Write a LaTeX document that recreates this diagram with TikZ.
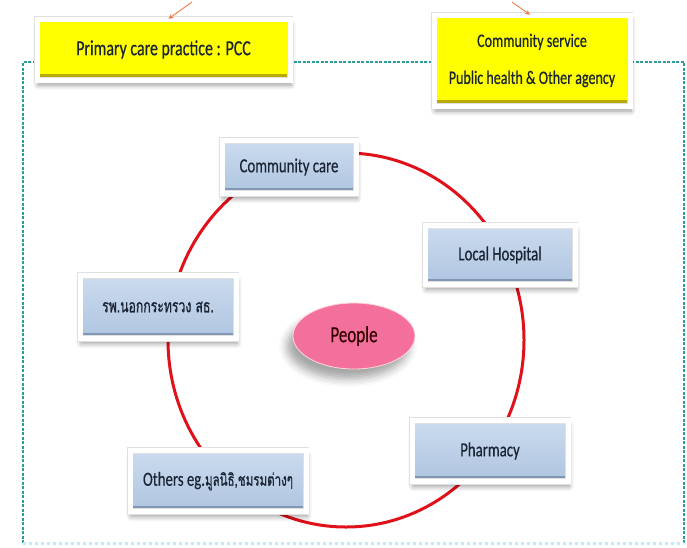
\documentclass[tikz,border=0pt]{standalone}
\usepackage{fontspec}
\setmainfont{Carlito}[FakeStretch=0.74,FakeBold=0.4]
\newfontfamily\thaifont{Loma}[Script=Thai,FakeStretch=0.68,FakeBold=0.9]
\usetikzlibrary{shadows,shadows.blur,arrows.meta,shapes.geometric}
\definecolor{boxtop}{HTML}{CCDCEF}
\definecolor{boxbot}{HTML}{AEC4E0}
\definecolor{boxedge}{HTML}{8096B2}
\definecolor{ylw}{HTML}{FFFF00}
\definecolor{ylwedge}{HTML}{B8AA00}
\definecolor{dashteal}{HTML}{2A9C9C}
\definecolor{ringred}{HTML}{E0111A}
\definecolor{peoplepink}{HTML}{F4709C}
\definecolor{txtcol}{HTML}{1A2433}
\definecolor{arroworange}{HTML}{EE7D45}
\tikzset{
  framed/.style={rectangle, draw=black!12, line width=0.6pt, double=white, double distance=5pt,
    inner sep=0pt, align=center, text=txtcol, font=\fontsize{20}{23}\selectfont,
    blur shadow={shadow xshift=1pt, shadow yshift=-5pt, shadow blur radius=5pt, shadow opacity=40, shadow blur steps=8}},
  bluebox/.style={framed, top color=boxtop, bottom color=boxbot,
    path picture={\fill[boxedge] (path picture bounding box.south west) rectangle ([yshift=6pt]path picture bounding box.south east);}},
  ylwbox/.style={framed, fill=ylw,
    path picture={\fill[ylwedge] (path picture bounding box.south west) rectangle ([yshift=6pt]path picture bounding box.south east);}},
  orangearrow/.style={draw=arroworange, line width=0.9pt, -{Stealth[length=5pt,width=5pt]}}
}
\begin{document}
\begin{tikzpicture}[x=1pt,y=-1pt]
\useasboundingbox (0,0) rectangle (687,547);
% dashed frame
\draw[dashteal, dashed, dash pattern=on 3pt off 1.5pt, line width=1.5pt] (23,543) -- (23,62) -- (684,62) -- (684,543);
\draw[cyan!25, dashed, line width=3pt] (23,543) -- (684,543);
% ring
\draw[ringred, line width=3pt] (346,340) ellipse [x radius=178pt, y radius=187pt];
% top boxes
\node[ylwbox, minimum width=253pt, minimum height=61pt, font=\fontsize{21.5}{24}\selectfont] (pcc) at (163.5,49.5) {Primary care practice : PCC};
\node[ylwbox, minimum width=196pt, minimum height=91pt, font=\fontsize{19}{37}\selectfont] (cs) at (532,60.5) {\raisebox{-3pt}{Community service}\\\raisebox{-3pt}{Public health \& Other agency}};
\coordinate (a1) at (192,2);
\coordinate (a2) at (512,2);
\draw[orangearrow] (a1) -- ([xshift=5pt]pcc.north);
\draw[orangearrow] (a2) -- ([xshift=-2pt]cs.north);
% ring boxes
\node[bluebox, minimum width=134pt, minimum height=53pt] (cc) at (289,167) {Community care};
\node[bluebox, minimum width=150pt, minimum height=59pt] (lh) at (500,255) {Local Hospital};
\node[bluebox, minimum width=156pt, minimum height=63pt, font=\thaifont\fontsize{18}{20}\selectfont] (rsw) at (158,307) {รพ.นอกกระทรวง สธ.};
\node[bluebox, minimum width=156pt, minimum height=61pt] (ph) at (490,451) {Pharmacy};
\node[bluebox, minimum width=176pt, minimum height=61pt] (oth) at (218,481) {Others eg.{\thaifont\fontsize{17}{20}\selectfont มูลนิธิ,ชมรมต่างๆ}};
% people
\node[ellipse, minimum width=122pt, minimum height=66pt, fill=peoplepink, draw=pink!60, line width=0.8pt,
  text=black!80!red, font=\fontsize{23}{26}\selectfont,
  blur shadow={shadow xshift=-6pt, shadow yshift=-10pt, shadow blur radius=8pt, shadow opacity=35}] (people) at (354,336) {People};
\end{tikzpicture}
\end{document}
